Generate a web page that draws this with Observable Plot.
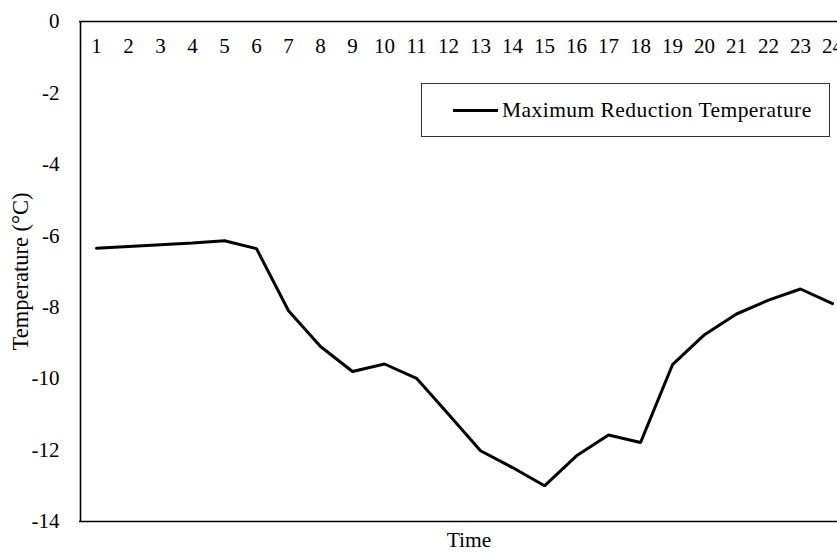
<!DOCTYPE html>
<html>
<head>
<meta charset="utf-8">
<script src="https://cdn.jsdelivr.net/npm/d3@7"></script>
<script src="https://cdn.jsdelivr.net/npm/@observablehq/plot@0.6"></script>
<style>
  html, body { margin: 0; padding: 0; background: #fff; overflow: hidden; }
  #wrap { position: relative; width: 837px; height: 556px; }
  #legend {
    position: absolute; left: 421px; top: 83px; width: 407px; height: 52px;
    border: 1.3px solid #333; background: #fff; box-sizing: content-box;
    font-family: "Liberation Serif", "Times New Roman", serif; font-size: 21.5px; letter-spacing: 0.45px; color: #000;
    display: flex; align-items: center; white-space: nowrap;
  }
  #legend .sw { width: 45px; height: 0; border-top: 3px solid #000; margin-left: 31px; margin-right: 4px; }
</style>
</head>
<body>
<div id="wrap"></div>
<script>
const hours = [1,2,3,4,5,6,7,8,9,10,11,12,13,14,15,16,17,18,19,20,21,22,23,24];
const temperature = [-6.35,-6.3,-6.25,-6.2,-6.14,-6.36,-8.1,-9.1,-9.8,-9.59,-9.99,-11.0,-12.02,-12.49,-13.0,-12.16,-11.58,-11.79,-9.61,-8.77,-8.19,-7.8,-7.49,-7.9];
const yTicks = [0,-2,-4,-6,-8,-10,-12,-14];
const seriesName = "Maximum Reduction Temperature";
const xTitle = "Time";
const yTitle = "Temperature (°C)";

const data = hours.map((h, i) => ({hour: h, temp: temperature[i]}));

const chart = Plot.plot({
  width: 837,
  height: 556,
  marginLeft: 79,
  marginRight: -11,
  marginTop: 21,
  marginBottom: 35,
  style: {fontFamily: "'Liberation Serif', 'Times New Roman', serif", fontSize: "21px", color: "#000", background: "#fff", overflow: "visible"},
  x: {type: "point", domain: hours, padding: 0.5, axis: null},
  y: {domain: [-14, 0], ticks: yTicks, label: null},
  marks: [
    Plot.axisY({ticks: yTicks, tickSize: 0, tickPadding: 20, tickFormat: d => String(d).replace("−", "-"), fontSize: 21}),
    Plot.axisY({ticks: [], tickSize: 0, label: yTitle, labelAnchor: "center", labelOffset: 67, labelArrow: "none", fontSize: 22.5}),
    Plot.ruleY([0, -14], {stroke: "#000", strokeWidth: 1.6}),
    Plot.ruleX([hours[0]], {stroke: "#000", strokeWidth: 1.6, dx: -16}),
    Plot.text(hours, {x: d => d, y: 0, dy: 25, text: d => String(d), fontSize: 21}),
    Plot.line(data, {x: "hour", y: "temp", stroke: "#000", strokeWidth: 3, strokeLinejoin: "miter"}),
    Plot.text([xTitle], {frameAnchor: "bottom", dy: 25, dx: 5, fontSize: 21.5})
  ]
});

const wrap = document.getElementById("wrap");
wrap.appendChild(chart);
const legend = document.createElement("div");
legend.id = "legend";
legend.innerHTML = `<div class="sw"></div><span>${seriesName}</span>`;
wrap.appendChild(legend);
</script>
</body>
</html>
